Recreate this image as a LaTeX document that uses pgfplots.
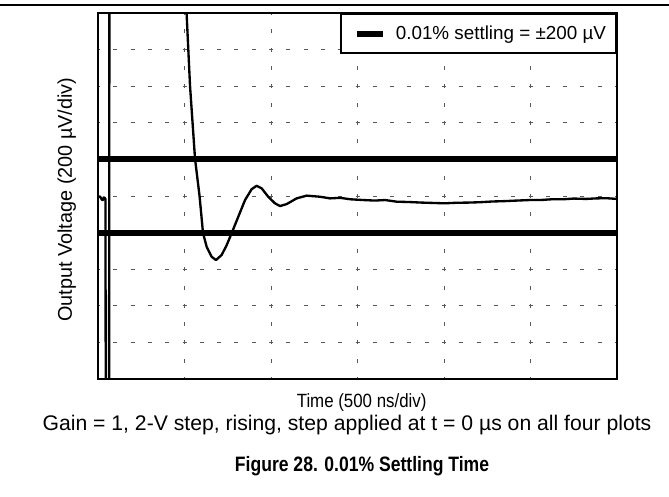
\documentclass[border=0pt]{standalone}
\usepackage{graphicx}
\usepackage{pgfplots}
\pgfplotsset{compat=1.18}
\usepackage{fontspec}
\setmainfont{Liberation Sans}
\pgfplotstableread{
t v
0 -5
8 -2
14 -6
22 -20
28 -22
33 -8
38 -10
43 -16
45 -1200
64 -1200
66 1200
500 1200
512 1000
532 601
561 202
587 0
607 -202
628 -277
657 -332
682 -350
715 -322
744 -268
773 -202
811 -113
850 -22
888 37
917 56
946 42
984 -4
1023 -40
1052 -55
1091 -44
1148 -13
1206 2
1283 -4
1341 -13
1400 -10
1460 -18
1532 -22
1600 -25
1660 -22
1726 -31
1800 -33
1870 -36
1940 -38
2004 -40
2070 -37
2140 -36
2208 -34
2280 -30
2350 -28
2420 -25
2497 -22
2560 -22
2620 -18
2688 -18
2750 -14
2820 -16
2882 -13
2940 -12
3000 -16
}\trace
\begin{document}
\begin{tikzpicture}
\path[use as bounding box] (-58.8pt,-70.2pt) rectangle (342.6pt,227.4pt);
\draw[line width=0.8pt] (-58.8pt,224.4pt) -- (342.6pt,224.4pt);
\begin{axis}[
  at={(0pt,0pt)}, anchor=south west,
  scale only axis, width=311.4pt, height=219.6pt,
  xmin=0, xmax=3000, ymin=-1000, ymax=1000,
  xtick={500,1000,1500,2000,2500}, ytick={-800,-600,...,800},
  xticklabels={}, yticklabels={},
  major tick length=0pt,
  grid=major,
  every axis x grid/.style={black!65, line width=0.6pt, dash pattern=on 2.4pt off 8.58pt, dash phase=1.2pt},
  every axis y grid/.style={black!65, line width=0.6pt, dash pattern=on 2.4pt off 7.98pt, dash phase=1.2pt},
  axis line style={line width=1.5pt},
  xlabel={\scalebox{0.88}[1]{Time (500 ns/div)}},
  ylabel={Output Voltage (200 µV/div)},
  xlabel style={at={(axis description cs:0.508,0)}, anchor=center, yshift=-14.4pt, font=\fontsize{11.5pt}{13.5pt}\selectfont},
  ylabel style={at={(axis description cs:-0.0604,0.49)}, anchor=center, font=\fontsize{11.9pt}{14pt}\selectfont},
  legend style={at={(1,1)}, anchor=north east, draw=black, line width=1.2pt, fill=white,
    inner xsep=4pt, inner ysep=5pt, font=\fontsize{11.3pt}{13.5pt}\selectfont},
  legend image code/.code={\path (-3.6pt,0pt) (19.6pt,0pt); \draw[line width=3.6pt] (0pt,0pt) -- (16pt,0pt);},
]
\addplot[line width=3.6pt] coordinates {(0,200) (3000,200)};
\addlegendentry{0.01\% settling = ±200 µV}
\addplot[line width=3.6pt, forget plot] coordinates {(0,-200) (3000,-200)};
\addplot[line width=1.4pt, line join=round, forget plot] table[x=t, y=v] {\trace};
\end{axis}
\node[font=\fontsize{12.7pt}{15pt}\selectfont] at (149.4pt,-27.6pt) {Gain = 1, 2-V step, rising, step applied at t = 0 µs on all four plots};
\node[font=\fontsize{12.5pt}{15pt}\selectfont\bfseries] at (158.4pt,-52.2pt) {\scalebox{0.843}[1]{Figure 28. 0.01\% Settling Time}};
\end{tikzpicture}
\end{document}
